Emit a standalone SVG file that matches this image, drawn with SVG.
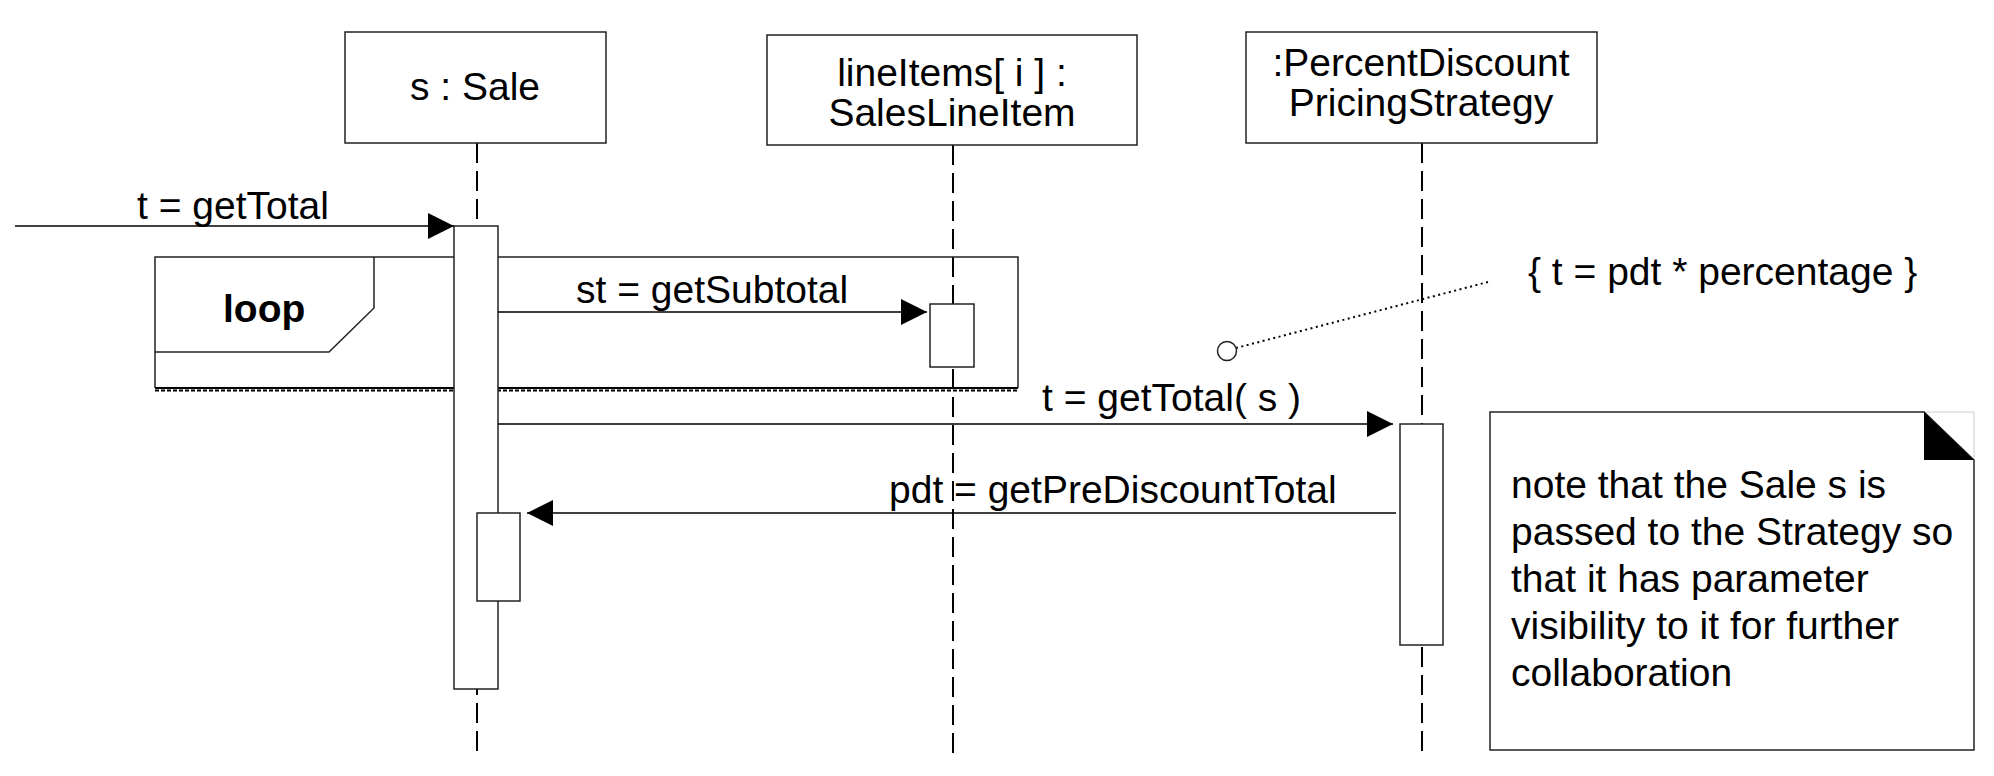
<svg xmlns="http://www.w3.org/2000/svg" width="1994" height="776" viewBox="0 0 1994 776">
<style>
text{font-family:"Liberation Sans",Arial,sans-serif;font-size:39px;fill:#000}
.box{fill:#fff;stroke:#222;stroke-width:1.5}
.life{stroke:#000;stroke-width:2;stroke-dasharray:20 8;fill:none}
.act{fill:#fff;stroke:#222;stroke-width:1.5}
.msg{stroke:#000;stroke-width:1.5;fill:none}
.frame{fill:none;stroke:#222;stroke-width:1.5}
</style>
<defs>
<marker id="ah" markerWidth="26" markerHeight="26" viewBox="0 0 26 26" refX="26" refY="13" orient="auto" markerUnits="userSpaceOnUse">
<path d="M0,0 L26,13 L0,26 Z" fill="#000"/>
</marker>
</defs>
<g id="lifelines">
<line class="life" x1="477" y1="143" x2="477" y2="755"/>
<line class="life" x1="953" y1="145" x2="953" y2="755"/>
<line class="life" x1="1422" y1="143" x2="1422" y2="755"/>
</g>
<g id="loop-frame">
<path class="frame" d="M155,388 L155,257 L1018,257 L1018,388"/>
<path class="frame" d="M155,352 L329,352 L374,308 L374,257"/>
<line x1="155" y1="388" x2="1018" y2="388" stroke="#000" stroke-width="2"/>
<line x1="155" y1="390.5" x2="1018" y2="390.5" stroke="#000" stroke-width="2" stroke-dasharray="4 2"/>
<text x="223" y="322" font-weight="bold">loop</text>
</g>
<g id="sale">
<rect class="box" x="345" y="32" width="261" height="111"/>
<text x="475" y="100" text-anchor="middle">s : Sale</text>
</g>
<g id="lineitems">
<rect class="box" x="767" y="35" width="370" height="110"/>
<text x="952" y="86" text-anchor="middle">lineItems[ i ] :</text>
<text x="952" y="126" text-anchor="middle">SalesLineItem</text>
</g>
<g id="pdps">
<rect class="box" x="1246" y="32" width="351" height="111"/>
<text x="1421" y="76" text-anchor="middle">:PercentDiscount</text>
<text x="1421" y="116" text-anchor="middle">PricingStrategy</text>
</g>
<g id="activations">
<rect class="act" x="454" y="226" width="44" height="463"/>
<rect class="act" x="930" y="304" width="44" height="63"/>
<rect class="act" x="1400" y="424" width="43" height="221"/>
<rect class="act" x="477" y="513" width="43" height="88"/>
</g>
<g id="connectors">
<line class="msg" x1="15" y1="226" x2="454" y2="226" marker-end="url(#ah)"/>
<line class="msg" x1="498" y1="312" x2="927" y2="312" marker-end="url(#ah)"/>
<line class="msg" x1="498" y1="424" x2="1393" y2="424" marker-end="url(#ah)"/>
<line class="msg" x1="1396" y1="513" x2="527" y2="513" marker-end="url(#ah)"/>
<line x1="1236" y1="348" x2="1488" y2="282" stroke="#000" stroke-width="2" stroke-dasharray="2 3.5"/>
<circle cx="1227" cy="351" r="9.5" fill="#fff" stroke="#222" stroke-width="1.5"/>
</g>
<g id="labels">
<text x="137" y="219">t = getTotal</text>
<text x="576" y="303">st = getSubtotal</text>
<text x="1042" y="411">t = getTotal( s )</text>
<text x="889" y="503">pdt = getPreDiscountTotal</text>
</g>
<g id="constraint">
<text x="1528" y="285">{ t = pdt * percentage }</text>
</g>
<g id="note">
<path d="M1924,412 L1974,412 L1974,460" fill="none" stroke="#ccc" stroke-width="1"/>
<path d="M1490,412 L1924,412 L1974,460 L1974,750 L1490,750 Z" fill="#fff" stroke="#222" stroke-width="1.5"/>
<path d="M1924,412 L1974,460 L1924,460 Z" fill="#000"/>
<text x="1511" y="498">note that the Sale s is</text>
<text x="1511" y="545">passed to the Strategy so</text>
<text x="1511" y="592">that it has parameter</text>
<text x="1511" y="639">visibility to it for further</text>
<text x="1511" y="686">collaboration</text>
</g>
</svg>
